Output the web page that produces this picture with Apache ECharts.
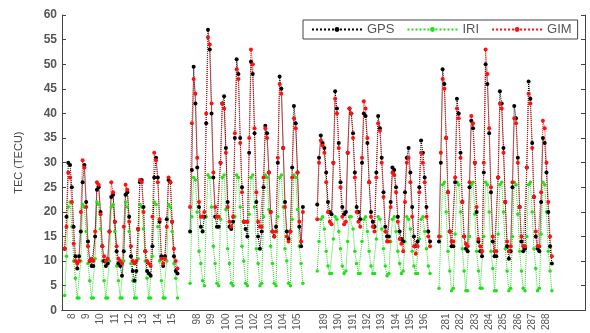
<!DOCTYPE html>
<html>
<head>
<meta charset="utf-8">
<script src="https://cdn.jsdelivr.net/npm/echarts@6.0.0/dist/echarts.min.js"></script>
<style>
  html, body { margin: 0; padding: 0; background: #fff; }
  #chart { width: 590px; height: 333px; }
</style>
</head>
<body>
<div id="chart"></div>
<script>
// day-of-year labels for the four observation windows
const daysWinter = ["8", "9", "10", "11", "12", "13", "14", "15"];
const daysSpring = ["98", "99", "100", "101", "102", "103", "104", "105"];
const daysSummer = ["189", "190", "191", "192", "193", "194", "195", "196"];
const daysAutumn = ["281", "282", "283", "284", "285", "286", "287", "288"];

// TEC, 8 samples per day (3 h), one line per day
const gpsWinter = [
  12.5, 19, 30, 29.5, 25, 17, 11, 8.5,
  11, 16, 26, 29.5, 22, 14, 10, 9,
  9, 15, 24.5, 25, 20, 13, 10, 9,
  9.5, 16, 23, 23.5, 18, 12, 9.5, 9,
  7, 12, 23.5, 24, 19, 11, 8, 6,
  8, 16.5, 26, 26.5, 21, 12, 8, 7.5,
  7, 13, 27, 31, 27, 18, 11, 9,
  11, 18.5, 26.5, 26, 18, 11, 8, 7.5,
];
const gimWinter = [
  12.5, 17, 28, 27, 22, 13.5, 10, 9.5,
  10, 20, 30.5, 29, 21, 13, 10, 10.5,
  10, 16, 26, 25.5, 19.5, 13, 11, 10,
  10.5, 16, 26, 24, 18, 13, 10.5, 10,
  9.5, 17, 25.5, 24.5, 18, 13, 10, 9.5,
  10, 16.5, 26.5, 26, 20, 12, 10, 9.5,
  9, 19, 32, 30.5, 26, 18.5, 10.5, 9.5,
  10.5, 17, 27, 26, 18, 12.5, 10, 8.5,
];
const iriWinter = [
  3, 11, 21, 22, 17, 10, 6.5, 2.5,
  2.5, 10, 21.5, 21, 16, 9.5, 6, 2.5,
  2.5, 10.5, 22, 21.5, 16.5, 10, 6, 2.5,
  2.5, 10, 21, 21.5, 16, 9, 6, 2.5,
  2.5, 10, 22, 21, 16, 9.5, 6, 2.5,
  2.5, 10.5, 21.5, 21, 16.5, 10, 6.5, 2.5,
  2.5, 11, 22, 21.5, 17, 10, 6, 2.5,
  2.5, 10, 21.5, 21, 16, 9.5, 6.5, 2.5,
];

const gpsSpring = [
  16, 28.5, 49.5, 42, 29, 21, 17, 16,
  19, 38, 57, 53, 40, 27, 19, 17,
  17, 30, 42, 43.5, 33, 22, 17, 16.5,
  18, 35, 51, 48, 35, 25, 18, 16.5,
  15, 32, 50.5, 48, 36, 22, 15, 12.5,
  16, 25, 37.5, 36, 28, 20, 16, 15,
  17, 30, 47.5, 45, 33, 22, 16, 14.5,
  16, 29, 41.5, 38, 28, 17, 13, 21,
];
const gimSpring = [
  21, 38, 47, 44, 31, 22, 19, 19,
  20, 40, 55.5, 54, 42, 28, 21, 19,
  19, 30, 42, 41, 32, 21, 18, 17,
  19, 36, 49, 47, 34, 24, 18, 18,
  18, 35, 53, 50, 37, 24, 18, 17,
  17, 27, 37, 35, 28, 20, 16, 15,
  16, 31, 46, 44, 33, 21, 15, 14,
  16, 27, 39, 37, 28, 18, 14, 20,
];
const iriSpring = [
  5.5, 19, 27, 26.5, 20, 12, 9.5, 6,
  5, 19, 27.5, 27, 21, 13, 9.5, 5.5,
  5, 18.5, 27, 27.5, 20.5, 12.5, 9.5, 5.5,
  5, 19, 27.5, 27, 21, 13, 10, 5.5,
  5, 19.5, 27, 27.5, 21, 12.5, 9.5, 5,
  5.5, 19, 27.5, 27, 20.5, 13, 9.5, 5.5,
  5, 19, 27, 27.5, 21, 12.5, 10, 5.5,
  5, 18.5, 27.5, 27, 20.5, 13, 9.5, 5.5,
];

const gpsSummer = [
  21.5, 31, 35.5, 34, 33, 28, 22, 20,
  19.5, 30, 44.5, 41, 34, 26, 21, 19.5,
  20, 32, 41, 40, 36, 28, 21, 20,
  18.5, 30, 40, 39.5, 34, 26, 20, 18,
  17, 28, 39.5, 37, 31, 24, 17, 15,
  15, 22, 29, 28.5, 25, 19, 16, 14.5,
  14, 24, 31, 33, 28, 21, 15, 13,
  14, 25, 34.5, 32, 27, 21, 16, 14,
];
const gimSummer = [
  18.5, 30, 34.5, 33.5, 32, 26, 20, 18,
  17.5, 30, 43, 40, 33, 25, 19, 17.5,
  18, 32, 41, 40, 35, 27, 20, 18,
  17, 31, 42.5, 41, 35, 26, 19, 17,
  16, 27, 38, 36.5, 30, 23, 16, 14,
  14, 21, 28, 27.5, 24, 18, 14.5, 13.5,
  12, 22, 30, 31, 26, 19, 13, 11.5,
  13, 24, 32, 30, 26, 19, 15, 13,
];
const iriSummer = [
  8, 14, 18.5, 19, 16.5, 12, 9, 7.5,
  7.5, 14.5, 19, 18.5, 16, 12.5, 9, 7.5,
  8, 14, 19, 19, 16.5, 12, 9.5, 7.5,
  7.5, 14, 18.5, 19, 16, 12, 9, 7.5,
  7.5, 14.5, 19, 18.5, 16.5, 12.5, 9, 7,
  7.5, 14, 18.5, 19, 16, 12, 9.5, 7.5,
  8, 14, 19, 18.5, 16.5, 12, 9, 7.5,
  7.5, 14.5, 18.5, 19, 16, 12.5, 9, 7.5,
];

const gpsAutumn = [
  14, 30, 49, 46, 35, 24, 16, 13,
  13, 26, 43, 40, 32, 22, 15, 12.5,
  12, 25, 38.5, 37, 30, 20, 14, 12,
  11, 28, 50, 46, 36, 24, 14, 11,
  11, 27, 44.5, 42, 33, 22, 13, 10.5,
  12, 25, 41.5, 39, 31, 21, 14, 12,
  12.5, 29, 46.5, 43, 34, 23, 15, 12.5,
  12, 22, 35, 34, 28, 20, 13, 9.5,
];
const gimAutumn = [
  15, 32, 47, 45, 35, 24, 16, 14,
  14, 27, 41, 39, 31, 22, 15, 13.5,
  13, 26, 39.5, 38, 30, 21, 14.5, 13,
  12, 30, 53, 48, 37, 25, 15, 12,
  12, 27, 42, 41, 32, 22, 14, 12,
  13, 26, 39, 38, 30, 21, 15, 13,
  13, 29, 44, 42, 33, 23, 16, 13,
  13, 24, 38.5, 37, 30, 22, 15, 11,
];
const iriAutumn = [
  4.5, 15, 25.5, 26, 20, 12, 8, 4,
  4.5, 15.5, 26, 25.5, 20, 12.5, 8, 4,
  4, 15, 25.5, 26, 19.5, 12, 8, 4.5,
  4.5, 15, 26, 25.5, 20, 12, 8.5, 4,
  4, 15.5, 25.5, 26, 20, 12.5, 8, 4,
  4.5, 15, 26, 25.5, 19.5, 12, 8, 4.5,
  4, 15, 25.5, 26, 20, 12.5, 8.5, 4,
  4.5, 15.5, 26, 25.5, 20, 12, 8, 4,
];

// slot layout of the category axis (8 slots per day, blank slots in the gaps)
const SLOTS = 292;
const PER_DAY = 8;
const groupStart = [1, 71, 142, 210];
const labelOffset = 4;

const groups = [
  { days: daysWinter, gps: gpsWinter, gim: gimWinter, iri: iriWinter },
  { days: daysSpring, gps: gpsSpring, gim: gimSpring, iri: iriSpring },
  { days: daysSummer, gps: gpsSummer, gim: gimSummer, iri: iriSummer },
  { days: daysAutumn, gps: gpsAutumn, gim: gimAutumn, iri: iriAutumn },
];

const categories = new Array(SLOTS).fill("");
const gps = new Array(SLOTS).fill(null);
const gim = new Array(SLOTS).fill(null);
const iri = new Array(SLOTS).fill(null);
groups.forEach((g, gi) => {
  const s = groupStart[gi];
  g.days.forEach((d, k) => {
    categories[s + k * PER_DAY + labelOffset] = d;
  });
  g.gps.forEach((v, i) => (gps[s + i] = v));
  g.gim.forEach((v, i) => (gim[s + i] = v));
  g.iri.forEach((v, i) => (iri[s + i] = v));
});

const FONT = "'Liberation Sans', Arial, sans-serif";
const AXIS_COLOR = "#444";
const showLabel = (idx, val) => val !== "";

const chart = echarts.init(document.getElementById("chart"));

function lineSeries(name, data, color, symbol, size) {
  return {
    name,
    type: "line",
    data,
    connectNulls: false,
    showAllSymbol: true,
    symbol,
    symbolSize: size,
    itemStyle: { color },
    lineStyle: { color, width: 1, type: "dotted" },
    emphasis: { disabled: true },
  };
}

chart.setOption({
  animation: false,
  backgroundColor: "#fff",
  grid: { left: 62, right: 5, top: 15, bottom: 18, containLabel: false },
  legend: {
    left: 303,
    top: 20,
    padding: [3, 6, 3, 8],
    itemGap: 12,
    itemWidth: 50,
    itemHeight: 6,
    borderColor: "#444",
    borderWidth: 1,
    backgroundColor: "#fff",
    textStyle: { fontFamily: FONT, fontSize: 13, color: "#555" },
    data: ["GPS", "IRI", "GIM"],
  },
  xAxis: [
    {
      type: "category",
      data: categories,
      boundaryGap: true,
      axisLine: { lineStyle: { color: AXIS_COLOR, width: 1 } },
      axisTick: { inside: true, length: 4, alignWithLabel: true, interval: showLabel, lineStyle: { color: AXIS_COLOR } },
      axisLabel: {
        interval: showLabel,
        rotate: 90,
        margin: 3,
        fontFamily: FONT,
        fontSize: 10,
        color: "#555",
      },
      splitLine: { show: false },
    },
    {
      type: "category",
      data: categories,
      position: "top",
      boundaryGap: true,
      axisLine: { lineStyle: { color: AXIS_COLOR, width: 1 } },
      axisTick: { inside: true, length: 4, alignWithLabel: true, interval: showLabel, lineStyle: { color: AXIS_COLOR } },
      axisLabel: { show: false },
      splitLine: { show: false },
    },
  ],
  yAxis: [
    {
      type: "value",
      min: 0,
      max: 60,
      interval: 5,
      name: "TEC (TECU)",
      nameLocation: "middle",
      nameGap: 38,
      nameTextStyle: { fontFamily: FONT, fontSize: 11, color: "#444" },
      axisLine: { show: true, lineStyle: { color: AXIS_COLOR, width: 1 } },
      axisTick: { show: true, inside: true, length: 4, lineStyle: { color: AXIS_COLOR } },
      axisLabel: { fontFamily: FONT, fontSize: 12, fontWeight: "bold", color: "#555", margin: 5 },
      splitLine: { show: false },
    },
    {
      type: "value",
      min: 0,
      max: 60,
      interval: 5,
      position: "right",
      axisLine: { show: true, lineStyle: { color: AXIS_COLOR, width: 1 } },
      axisTick: { show: true, inside: true, length: 4, lineStyle: { color: AXIS_COLOR } },
      axisLabel: { show: false },
      splitLine: { show: false },
    },
  ],
  series: [
    lineSeries("IRI", iri, "#22e01a", "circle", 3.5),
    lineSeries("GPS", gps, "#000000", "circle", 4),
    lineSeries("GIM", gim, "#ff1010", "circle", 4),
  ],
});
</script>
</body>
</html>
